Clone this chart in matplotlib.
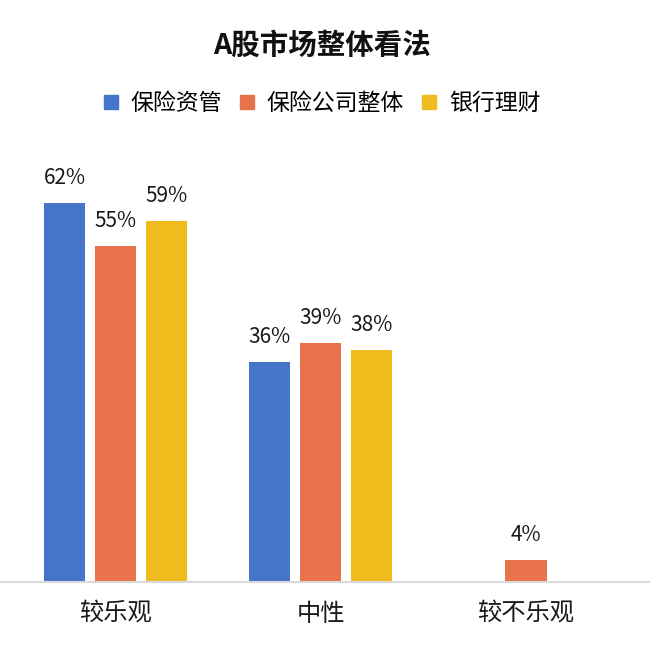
import matplotlib
matplotlib.use("Agg")
import matplotlib.pyplot as plt
from matplotlib.lines import Line2D
import numpy as np

plt.rcParams['font.family'] = ['Noto Sans CJK SC', 'DejaVu Sans']

title = "A股市场整体看法"
categories = ["较乐观", "中性", "较不乐观"]
series_names = ["保险资管", "保险公司整体", "银行理财"]
s_baoxianzg = [62, 36, None]
s_baoxiangs = [55, 39, 3.6]
s_yinhang = [59, 38, None]
colors = ["#4575C8", "#E8734B", "#EFBB1D"]

series = [s_baoxianzg, s_baoxiangs, s_yinhang]

fig = plt.figure(figsize=(6.5, 6.49), dpi=100)
ax = fig.add_axes([0.0, 0.104, 1.0, 0.665])

x = np.arange(len(categories))
width = 0.2
offsets = [-0.2485, 0.0, 0.2485]

for vals, off, col in zip(series, offsets, colors):
    for xi, v in zip(x, vals):
        if v is None:
            continue
        ax.bar(xi + off, v, width=width, color=col, zorder=2)
        ax.annotate(f"{v:.0f}%", xy=(xi + off, v), xytext=(0, 18),
                    textcoords="offset points", ha="center", va="center",
                    fontsize=15, color="#1a1a1a")

ax.set_xlim(-0.5627, 2.604)
ax.set_ylim(0, 70.7)
ax.set_xticks(x)
ax.set_xticklabels(categories, fontsize=17.5, color="#1a1a1a")
ax.tick_params(axis="x", length=0, pad=14)
ax.set_yticks([])
for s in ["top", "right", "left"]:
    ax.spines[s].set_visible(False)
ax.spines["bottom"].set_color("#D9D9D9")
ax.spines["bottom"].set_linewidth(1.5)
ax.spines["bottom"].set_zorder(3)

fig.text(0.495, 0.929, title, ha="center", va="center",
         fontsize=20.5, fontweight="bold", color="#111111")

handles = [Line2D([], [], linestyle="none", marker="s", markersize=9.5,
                  markerfacecolor=c, markeredgecolor=c) for c in colors]
fig.legend(handles, series_names, loc="center", bbox_to_anchor=(0.495, 0.841),
           ncol=3, frameon=False, fontsize=16.5, handlelength=0.7,
           handletextpad=0.5, columnspacing=0.75, borderaxespad=0)

fig.savefig("out.png", dpi=100, facecolor="white")
